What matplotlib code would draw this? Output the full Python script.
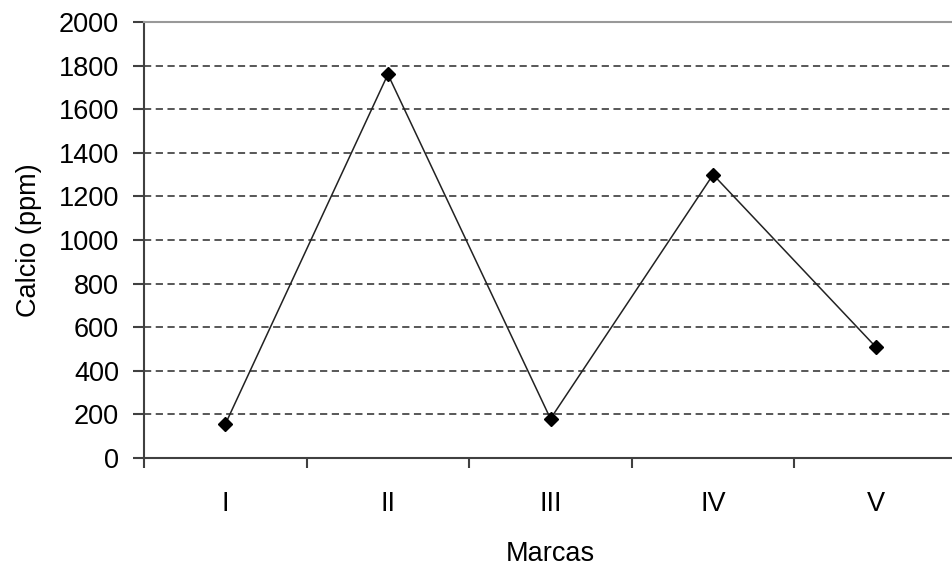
import numpy as np
import matplotlib.pyplot as plt

plt.rcParams['font.family'] = ['Liberation Sans', 'DejaVu Sans']

marcas = ['I', 'II', 'III', 'IV', 'V']
calcio = [155, 1760, 180, 1300, 510]

fig = plt.figure(figsize=(9.52, 5.71), dpi=100)
ax = fig.add_axes([144 / 952, 1 - 458 / 571, 813 / 952, 436 / 571])

x = np.arange(len(marcas))
ax.plot(x, calcio, color='#222222', lw=1.1, marker='D', ms=7,
        mfc='black', mec='black', zorder=3)

ax.set_xlim(-0.5, len(marcas) - 0.5)
ax.set_ylim(0, 2000)
ax.set_yticks(np.arange(0, 2001, 200))
ax.set_xticks(x)
ax.set_xticklabels(marcas)
ax.set_xticks(np.arange(-0.5, len(marcas), 1), minor=True)

ax.yaxis.grid(True, color='#4a4a4a', lw=1.3, linestyle=(0, (4, 2.5)))
ax.set_axisbelow(True)

for s in ['left', 'bottom']:
    ax.spines[s].set_color('#404040')
    ax.spines[s].set_linewidth(1.5)
ax.spines['right'].set_visible(False)
ax.spines['top'].set_color('#999999')
ax.spines['top'].set_linewidth(1.5)

ax.tick_params(axis='y', direction='out', length=8, width=1.5,
               color='#404040', labelsize=19.5, pad=10)
ax.tick_params(axis='x', which='major', length=0, labelsize=19.5, pad=24)
ax.tick_params(axis='x', which='minor', direction='out', length=7,
               width=1.5, color='#404040')

ax.set_xlabel('Marcas', fontsize=19.5, labelpad=17)
ax.set_ylabel('Calcio (ppm)', fontsize=19.5, labelpad=12)

fig.savefig('out.png', dpi=100)
